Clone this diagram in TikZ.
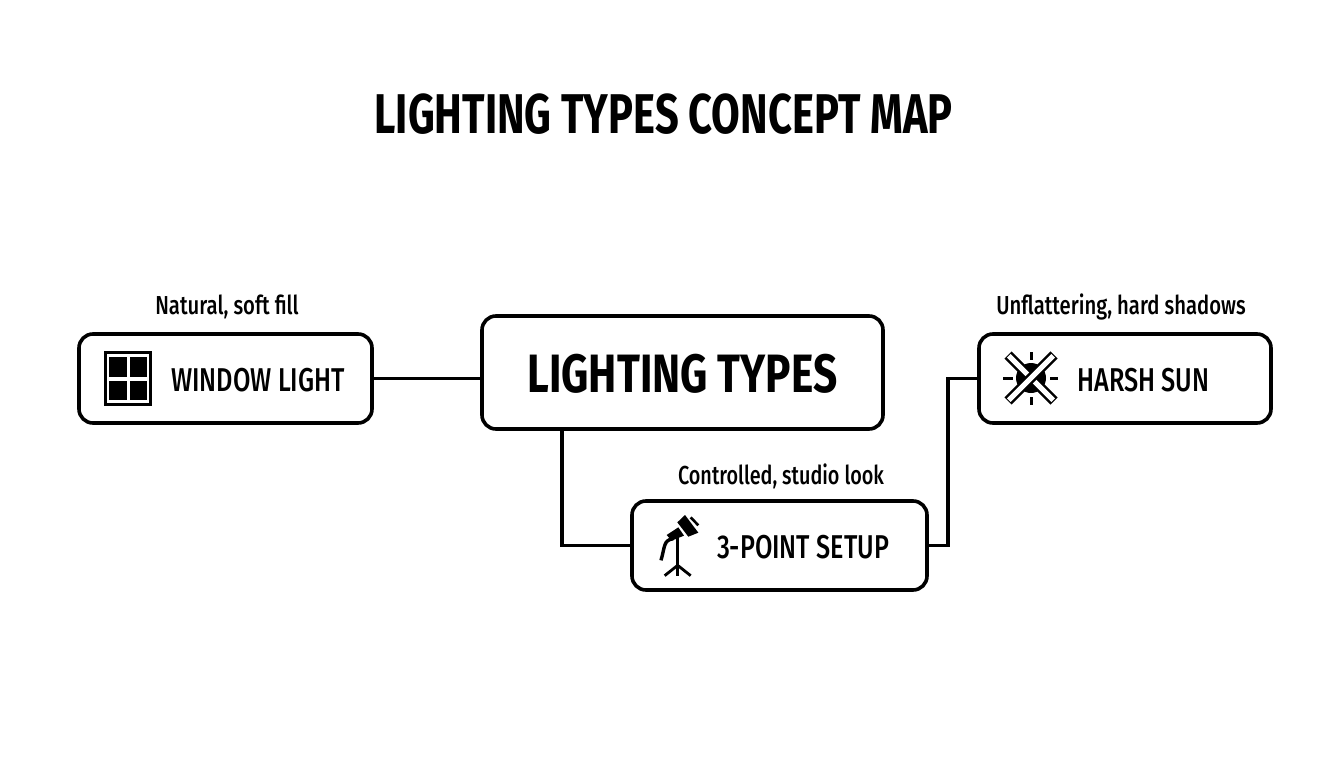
\documentclass[tikz,border=0pt]{standalone}
\usepackage{fontspec}
\setmainfont{Fira Sans}
\newfontfamily\dintitle[FakeStretch=0.743]{Fira Sans Bold}
\newfontfamily\dinbold[FakeStretch=0.785]{Fira Sans Bold}
\newfontfamily\dinmed[FakeStretch=0.765]{Fira Sans Medium}
\newfontfamily\dinnote[FakeStretch=0.78]{Fira Sans Medium}
\newfontfamily\dinnotesm[FakeStretch=0.762]{Fira Sans Medium}
\tikzset{
  x=1pt,y=-1pt,
  box/.style={draw=black,line width=3.6pt,rounded corners=14pt,fill=white,inner sep=0pt},
  conn/.style={draw=black,line width=3.2pt,line join=miter},
  nametext/.style={font=\dinmed\fontsize{33}{33}\selectfont,inner sep=0pt},
  note/.style={font=\dinnote\fontsize{26}{26}\selectfont,inner sep=0pt},
  iconline/.style={draw=black,line width=3pt},
}
\begin{document}
\begin{tikzpicture}
\useasboundingbox (0,0) rectangle (1344,768);
\fill[white] (0,0) rectangle (1344,768);
\node[inner sep=0pt,font=\dintitle\fontsize{56}{56}\selectfont] (title) at (663.5,114) {LIGHTING TYPES CONCEPT MAP};
\node[box,minimum width=293pt,minimum height=89pt] (window) at (225.5,378.5) {};
\node[box,minimum width=401pt,minimum height=113pt] (central) at (682.5,372.5) {};
\node[box,minimum width=295pt,minimum height=89pt] (setup) at (779.5,545.5) {};
\node[box,minimum width=292pt,minimum height=89pt] (sun) at (1125,378.5) {};
\coordinate (ca) at (562,429);
\coordinate (bend) at (948,460);
\draw[conn] (window.east) -- (window.east -| central.west);
\draw[conn] (ca) |- (setup.west);
\draw[conn] (setup.east) -- (setup.east -| bend) -- (bend |- sun.west) -- (sun.west);
\node[inner sep=0pt,font=\dinbold\fontsize{54}{54}\selectfont] (ctext) at (682.5,374) {LIGHTING TYPES};
\node[nametext] (wtext) at (258,380) {WINDOW LIGHT};
\node[nametext] (stext) at (803,547) {3-POINT SETUP};
\node[nametext] (htext) at (1143.5,380) {HARSH SUN};
\node[note] (wnote) at (227,307) {Natural, soft fill};
\node[note,font=\dinnotesm\fontsize{26}{26}\selectfont] (snote) at (781,476) {Controlled, studio look};
\node[note] (hnote) at (1121,307) {Unflattering, hard shadows};
% window icon
\draw[black,line width=3pt] (105,352) rectangle (150.5,404.5);
\fill[black] (109,357) rectangle (126.5,377);
\fill[black] (130,357) rectangle (146.5,377);
\fill[black] (109,381) rectangle (126.5,400);
\fill[black] (130,381) rectangle (146.5,400);
% sun icon
\fill[black] (1031,378) circle (15);
\draw[iconline] (1031,352) -- (1031,360);
\draw[iconline] (1031,397) -- (1031,405);
\draw[iconline] (1003,378) -- (1013,378);
\draw[iconline] (1050,378) -- (1058,378);
\draw[black,line width=10pt] (1008,355) -- (1054,401);
\draw[white,line width=5pt] (1008.8,355.8) -- (1053.2,400.2);
\draw[black,line width=10pt] (1054,355) -- (1008,401);
\draw[white,line width=5pt] (1053.2,355.8) -- (1008.8,400.2);
% lamp icon
\begin{scope}[shift={(620,490)},scale=1/3]
\fill[black] (172,97) -- (195,75) -- (235,128) -- (205,140) -- cycle;
\fill[black] (140,135) -- (175,112) -- (192,137) -- (155,152) -- cycle;
\draw[black,line width=2.6pt] (212,82) -- (235,106);
\draw[black,line width=2.8pt] (173,145) -- (173,258);
\draw[black,line width=2.8pt] (173,226) -- (134,257);
\draw[black,line width=2.8pt] (173,226) -- (212,257);
\draw[black,line width=3.4pt] (160,146) .. controls (130,150) and (135,170) .. (123,211);
\end{scope}
\end{tikzpicture}
\end{document}
